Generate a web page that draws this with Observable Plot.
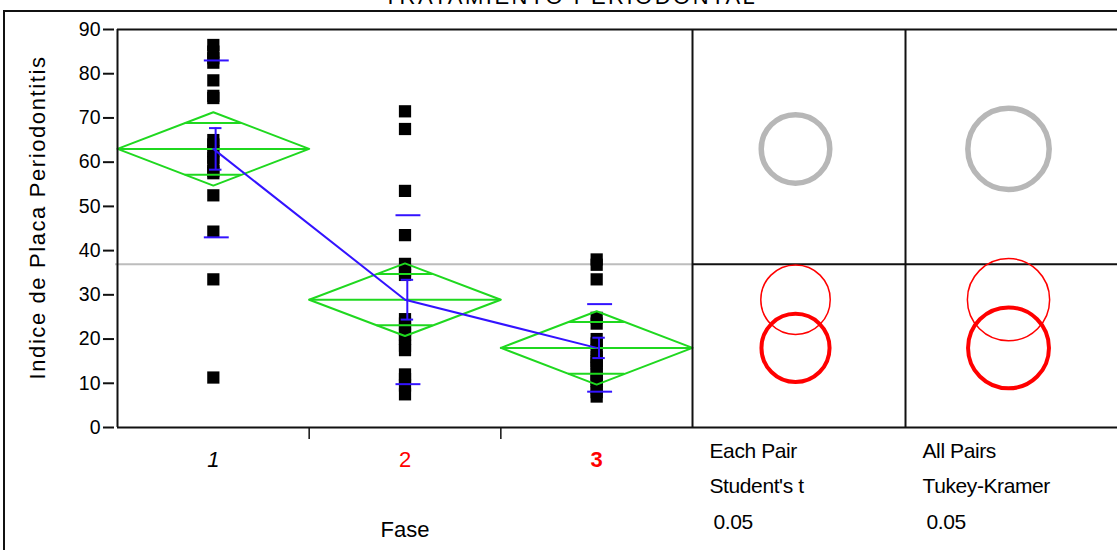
<!DOCTYPE html>
<html>
<head>
<meta charset="utf-8">
<script src="https://cdn.jsdelivr.net/npm/d3@7"></script>
<script src="https://cdn.jsdelivr.net/npm/@observablehq/plot@0.6"></script>
<style>
  html, body { margin: 0; padding: 0; background: #fff; }
  #chart { position: relative; width: 1117px; height: 550px; overflow: hidden; }
  #chart .outer { position: absolute; left: 3px; top: 10px; right: -10px; bottom: -10px;
    border-top: 2px solid #111; border-left: 2px solid #111; pointer-events: none; }
</style>
</head>
<body>
<div id="chart"><div class="outer"></div></div>
<script>
// Phases (groups) and the plaque index observed in each
const phases = ["1", "2", "3"];
const phase1Values = [86.5, 85, 83.5, 82.5, 78.5, 75, 74.5, 65, 64, 62.5, 61, 60, 58, 57.5, 52.5, 44.3, 33.5, 11.3];
const phase2Values = [71.5, 67.5, 53.5, 43.5, 37, 35.5, 34.5, 24.5, 23.5, 22, 21, 20, 18.5, 17.5, 12, 11, 9.5, 7.5];
const phase3Values = [38, 36.8, 33.5, 24.8, 23.5, 20, 19, 17.5, 16, 15, 14.5, 13.5, 12, 11, 10.5, 9, 8, 7];

// One-way ANOVA summaries per phase
const means = [63.0, 28.9, 18.0];
const stdDevs = [20.0, 19.1, 9.9];
const stdErrs = [4.7, 4.5, 2.3];
const ciHalfWidths = [8.3, 8.2, 8.3];
const grandMean = 36.9;

// Comparison circle radii (in y units) for each test
const studentRadii = [7.75, 7.85, 7.7];
const tukeyRadii = [9.2, 9.3, 9.15];
const alpha = "0.05";

// Labels
const yTicks = [0, 10, 20, 30, 40, 50, 60, 70, 80, 90];
const title = "TRATAMIENTO PERIODONTAL";
const yLabel = "Indice de Placa Periodontitis";
const xLabel = "Fase";
const tests = [["Each Pair", "Student's t"], ["All Pairs", "Tukey-Kramer"]];

// ---- layout ----
const W = 1117, H = 550;
const mLeft = 117, mTop = 29, mBottom = 123;
const bandPx = 191.67;                       // pixels per phase
const xMax = 0.5 + (W - mLeft) / bandPx;     // x domain end (circle panels live past 3.5)
const panelPx = 213;
const panelEdges = [3.5, 3.5 + panelPx / bandPx];
const circleX = panelEdges.map(e => e + 103 / bandPx);
const yPx = H - mTop - mBottom;

const green = "#1fd81f";
const blue = "#3313ff";
const gray = "#bdbdbd";
const ink = "#111";

const points = [phase1Values, phase2Values, phase3Values]
  .flatMap((vals, i) => vals.map(v => ({x: i + 1, y: v})));

const summary = phases.map((p, i) => ({
  x: i + 1, mean: means[i], sd: stdDevs[i], se: stdErrs[i], ci: ciHalfWidths[i]
}));

// diamond outlines (closed) for each phase
const diamondPts = summary.flatMap(s => [
  {g: s.x, x: s.x - 0.5, y: s.mean},
  {g: s.x, x: s.x, y: s.mean + s.ci},
  {g: s.x, x: s.x + 0.5, y: s.mean},
  {g: s.x, x: s.x, y: s.mean - s.ci},
  {g: s.x, x: s.x - 0.5, y: s.mean}
]);

// overlap marks at mean ± ci/√2, spanning the diamond's width at that height
const overlap = summary.flatMap(s => [1, -1].map(k => {
  const d = s.ci / Math.SQRT2;
  const half = 0.5 * (1 - d / s.ci);
  return {y: s.mean + k * d, x1: s.x - half, x2: s.x + half};
}));

const sdMarks = summary.flatMap(s => [s.mean + s.sd, s.mean - s.sd].map(y => ({y, x1: s.x - 0.047, x2: s.x + 0.083})));
const seCaps = summary.flatMap(s => [s.mean + s.se, s.mean - s.se].map(y => ({y, x1: s.x - 0.02, x2: s.x + 0.045})));

const circleStyles = [
  {stroke: "#b7b7b7", strokeWidth: 5.5},
  {stroke: "#ff0000", strokeWidth: 1.5},
  {stroke: "#ff0000", strokeWidth: 4}
];
const circles = [studentRadii, tukeyRadii].flatMap((radii, p) =>
  radii.map((r, i) => ({x: circleX[p], y: means[i], r, ...circleStyles[i]})));

const labelStyles = [
  {fill: "#000", fontStyle: "italic", fontWeight: "normal"},
  {fill: "#ff0000", fontStyle: "normal", fontWeight: "normal"},
  {fill: "#ff0000", fontStyle: "normal", fontWeight: "bold"}
];

const chart = Plot.plot({
  width: W, height: H,
  marginLeft: mLeft, marginRight: 0, marginTop: mTop, marginBottom: mBottom,
  style: {fontFamily: "'Liberation Sans', Arial, sans-serif", background: "transparent", color: "#000"},
  x: {type: "linear", domain: [0.5, xMax], axis: null},
  y: {domain: [0, 90], axis: null},
  r: {type: "linear", domain: [0, 90], range: [0, yPx]},
  color: {type: "identity"},
  marks: [
    // grand mean
    Plot.ruleY([grandMean], {x1: 0.49, x2: 3.5, stroke: gray, strokeWidth: 2}),
    Plot.ruleY([grandMean], {x1: 3.5, x2: xMax, stroke: ink, strokeWidth: 2}),
    // observations
    Plot.dot(points, {x: "x", y: "y", symbol: "square", r: 6.9, fill: "#000", stroke: null}),
    // means diamonds
    Plot.line(diamondPts, {x: "x", y: "y", z: "g", stroke: green, strokeWidth: 2, curve: "linear"}),
    Plot.ruleY(summary, {y: "mean", x1: d => d.x - 0.5, x2: d => d.x + 0.5, stroke: green, strokeWidth: 2}),
    Plot.ruleY(overlap, {y: "y", x1: "x1", x2: "x2", stroke: green, strokeWidth: 2}),
    // means connected, std dev and std error bars
    Plot.line(summary, {x: "x", y: "mean", stroke: blue, strokeWidth: 2}),
    Plot.ruleY(sdMarks, {y: "y", x1: "x1", x2: "x2", stroke: blue, strokeWidth: 2}),
    Plot.ruleX(summary, {x: d => d.x + 0.012, y1: d => d.mean - d.se, y2: d => d.mean + d.se, stroke: blue, strokeWidth: 2}),
    Plot.ruleY(seCaps, {y: "y", x1: "x1", x2: "x2", stroke: blue, strokeWidth: 2}),
    // comparison circles
    Plot.dot(circles, {x: "x", y: "y", r: "r", stroke: "stroke", strokeWidth: "strokeWidth", fill: "none"}),
    // frame and panels
    Plot.ruleY([0, 90], {x1: 0.5, x2: xMax, stroke: ink, strokeWidth: 2}),
    Plot.ruleX([0.5, ...panelEdges], {y1: 0, y2: 90, stroke: ink, strokeWidth: 2}),
    // axes
    Plot.axisY({ticks: yTicks, tickSize: 11, dx: -3, tickPadding: 3, fontSize: 19.5, strokeWidth: 2, stroke: ink}),
    Plot.axisX({ticks: [1.5, 2.5], tickSize: 12, tickFormat: () => "", strokeWidth: 1.5, stroke: ink}),
    ...phases.map((p, i) => Plot.text([p], {
      x: () => i + 1, frameAnchor: "bottom", dy: 39, fontSize: 22, ...labelStyles[i]
    })),
    Plot.text([xLabel], {x: () => 2, frameAnchor: "bottom", dy: 109, fontSize: 22}),
    ...tests.flatMap(([a, b], p) => [
      Plot.text([a], {x: () => panelEdges[p], frameAnchor: "bottom", textAnchor: "start", dx: 17, dy: 30, fontSize: 21}),
      Plot.text([b], {x: () => panelEdges[p], frameAnchor: "bottom", textAnchor: "start", dx: 17, dy: 65, fontSize: 21}),
      Plot.text([alpha], {x: () => panelEdges[p], frameAnchor: "bottom", textAnchor: "start", dx: 21, dy: 101, fontSize: 21})
    ]),
    Plot.text([yLabel], {frameAnchor: "left", textAnchor: "middle", rotate: -90, dx: -80, dy: -11, fontSize: 22}),
    Plot.text([title], {frameAnchor: "top", dx: -47, dy: -41, fontSize: 22})
  ]
});

const svg = d3.select(chart);
svg.selectAll("text").filter(function () { return this.textContent === yLabel; })
  .attr("letter-spacing", "1.6px");
svg.selectAll("text").filter(function () { return this.textContent === title; })
  .attr("letter-spacing", "2.5px");
svg.selectAll("text").filter(function () { return tests.flat().includes(this.textContent) || this.textContent === alpha; })
  .attr("letter-spacing", "-0.4px");

document.getElementById("chart").prepend(chart);
</script>
</body>
</html>
